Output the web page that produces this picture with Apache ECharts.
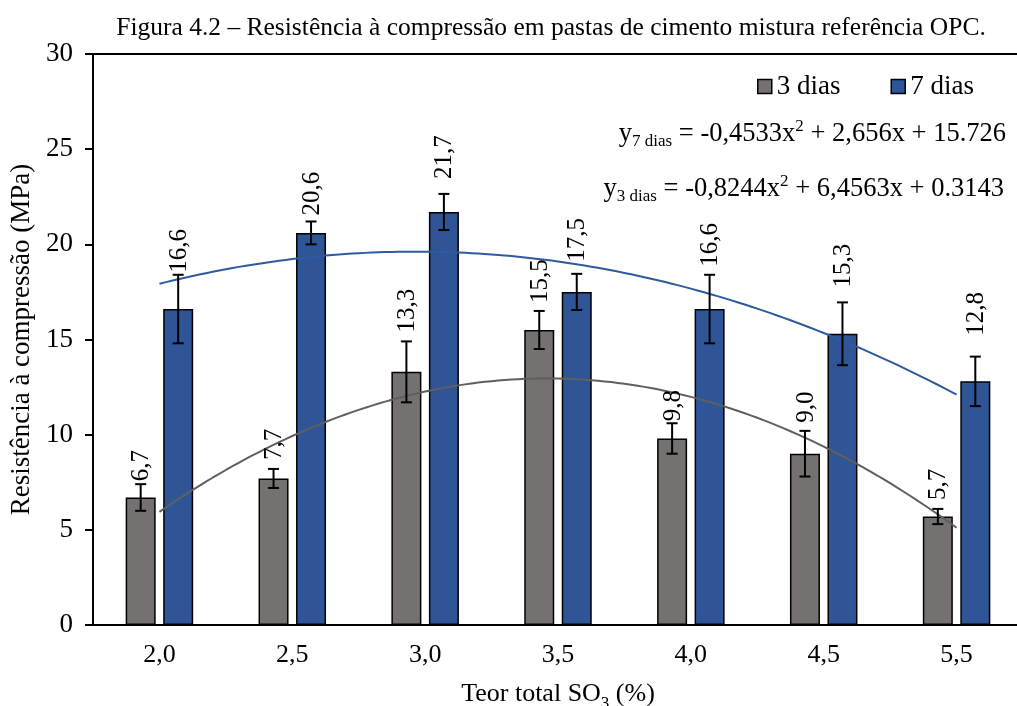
<!DOCTYPE html>
<html>
<head>
<meta charset="utf-8">
<script src="https://cdn.jsdelivr.net/npm/echarts@6/dist/echarts.min.js"></script>
<style>
html,body{margin:0;padding:0;background:#fff;}
#chart{width:1017px;height:706px;}
</style>
</head>
<body>
<div id="chart"></div>
<script>
// ---- data ----
var categories = ['2,0', '2,5', '3,0', '3,5', '4,0', '4,5', '5,5'];
var values3 = [6.7, 7.7, 13.3, 15.5, 9.8, 9.0, 5.7];
var values7 = [16.6, 20.6, 21.7, 17.5, 16.6, 15.3, 12.8];
var err3 = [0.7, 0.5, 1.6, 1.0, 0.8, 1.2, 0.4];
var err7 = [1.8, 0.6, 0.95, 0.95, 1.8, 1.65, 1.3];
var labels3 = ['6,7', '7,7', '13,3', '15,5', '9,8', '9,0', '5,7'];
var labels7 = ['16,6', '20,6', '21,7', '17,5', '16,6', '15,3', '12,8'];
var trend3Coef = [-0.8244, 6.4563, 0.3143]; // a, b, c  (y = a x^2 + b x + c), x = category number
var trend7Coef = [-0.4533, 2.656, 15.726];

// ---- style ----
var FONT = '"Liberation Serif", "Times New Roman", serif';
var GRAY = '#767171';
var BLUE = '#2F5597';
var BAR_W = 30;
var BAR_GAP = 7.5;
// pixel gap between the top of each error bar and its rotated label (style only)
var labelGap3 = [3, 9, 9, 8, 2, 8, 9];
var labelGap7 = [2, 6, 15, 12, 8, 15, 21];

function trendPoints(coef) {
  var pts = [];
  var n = categories.length;
  for (var i = 0; i <= 120; i++) {
    var x = 1 + (n - 1) * i / 120;
    pts.push([x, coef[0] * x * x + coef[1] * x + coef[2]]);
  }
  return pts;
}

function errData(vals, errs) {
  return vals.map(function (v, i) { return [i, v - errs[i], v + errs[i]]; });
}

function errRender(offset, labelArr, gapArr) {
  return function (params, api) {
    var idx = api.value(0);
    var lo = api.coord([idx, api.value(1)]);
    var hi = api.coord([idx, api.value(2)]);
    var x = lo[0] + offset;
    var cap = 5.5;
    var ls = { stroke: '#000', lineWidth: 2 };
    return {
      type: 'group',
      children: [
        { type: 'line', shape: { x1: x, y1: lo[1], x2: x, y2: hi[1] }, style: ls },
        { type: 'line', shape: { x1: x - cap, y1: lo[1], x2: x + cap, y2: lo[1] }, style: ls },
        { type: 'line', shape: { x1: x - cap, y1: hi[1], x2: x + cap, y2: hi[1] }, style: ls },
        { type: 'text', x: x + 1, y: hi[1] - gapArr[params.dataIndex], rotation: Math.PI / 2,
          style: { text: labelArr[params.dataIndex], fontFamily: FONT, fontSize: 25, fill: '#000',
                   align: 'left', verticalAlign: 'middle' } }
      ]
    };
  };
}

var off = (BAR_W + BAR_GAP) / 2;
var chart = echarts.init(document.getElementById('chart'), null, { renderer: 'canvas' });

var eqRich = {
  m: { fontFamily: FONT, fontSize: 26.5, lineHeight: 32, fill: '#000' },
  sub: { fontFamily: FONT, fontSize: 17, lineHeight: 17, verticalAlign: 'bottom', fill: '#000' },
  sup: { fontFamily: FONT, fontSize: 17, lineHeight: 17, verticalAlign: 'top', fill: '#000' }
};

var option = {
  animation: false,
  backgroundColor: '#fff',
  textStyle: { fontFamily: FONT },
  grid: { left: 93, top: 54, width: 930, bottom: 81, outerBoundsMode: 'none', containLabel: false,
          show: true, borderColor: '#000', borderWidth: 2, backgroundColor: 'transparent' },
  legend: {
    left: 757, top: 73, padding: 0, itemWidth: 14, itemHeight: 14, itemGap: 50, icon: 'rect',
    data: ['3 dias', '7 dias'],
    textStyle: { fontFamily: FONT, fontSize: 27, color: '#000' },
    itemStyle: { borderColor: '#000', borderWidth: 1.5 }
  },
  xAxis: [{
    type: 'category', data: categories,
    axisLine: { lineStyle: { color: '#000', width: 2 } },
    axisTick: { alignWithLabel: true, length: 8, lineStyle: { color: '#000', width: 2 } },
    axisLabel: { fontFamily: FONT, fontSize: 26, color: '#000', margin: 17 },
    name: '{t|Teor total SO}{s|3}{t| (%)}',
    nameLocation: 'middle', nameGap: 54,
    nameTextStyle: { fontFamily: FONT, fontSize: 26, color: '#000',
      rich: {
        t: { fontFamily: FONT, fontSize: 26, lineHeight: 30, color: '#000' },
        s: { fontFamily: FONT, fontSize: 17, lineHeight: 17, verticalAlign: 'bottom', color: '#000', padding: [0, 0, -3, 0] }
      } }
  }, {
    type: 'value', min: 0.5, max: 7.5, show: false
  }],
  yAxis: {
    type: 'value', min: 0, max: 30, interval: 5,
    axisLine: { show: true, lineStyle: { color: '#000', width: 2 } },
    axisTick: { show: true, inside: false, length: 8, lineStyle: { color: '#000', width: 2 } },
    splitLine: { show: false },
    axisLabel: { fontFamily: FONT, fontSize: 27, color: '#000', margin: 20 },
    name: 'Resistência à compressão (MPa)',
    nameLocation: 'middle', nameGap: 57, nameRotate: 90,
    nameTextStyle: { fontFamily: FONT, fontSize: 27, color: '#000' }
  },
  series: [
    { name: '3 dias', type: 'bar', data: values3, barWidth: BAR_W, barGap: (BAR_GAP / BAR_W * 100) + '%',
      itemStyle: { color: GRAY, borderColor: '#000', borderWidth: 1.5 }, z: 2 },
    { name: '7 dias', type: 'bar', data: values7, barWidth: BAR_W,
      itemStyle: { color: BLUE, borderColor: '#000', borderWidth: 1.5 }, z: 2 },
    { type: 'line', xAxisIndex: 1, data: trendPoints(trend7Coef), showSymbol: false, symbol: 'none',
      lineStyle: { color: '#2F5AA0', width: 2 }, z: 3, silent: true },
    { type: 'line', xAxisIndex: 1, data: trendPoints(trend3Coef), showSymbol: false, symbol: 'none',
      lineStyle: { color: '#5F5F5F', width: 2 }, z: 3, silent: true },
    { type: 'custom', data: errData(values3, err3), renderItem: errRender(-off, labels3, labelGap3),
      encode: { x: 0, y: [1, 2] }, z: 4, silent: true },
    { type: 'custom', data: errData(values7, err7), renderItem: errRender(off, labels7, labelGap7),
      encode: { x: 0, y: [1, 2] }, z: 4, silent: true }
  ],
  graphic: [
    { type: 'text', x: 551, y: 28, style: { text: 'Figura 4.2 – Resistência à compressão em pastas de cimento mistura referência OPC.',
      fontFamily: FONT, fontSize: 25.5, fill: '#000', align: 'center', verticalAlign: 'middle' } },
    { type: 'text', x: 1006, y: 134, style: { text: '{m|y}{sub|7 dias}{m| = -0,4533x}{sup|2}{m| + 2,656x + 15.726}',
      rich: eqRich, align: 'right', verticalAlign: 'middle' } },
    { type: 'text', x: 1004, y: 189, style: { text: '{m|y}{sub|3 dias}{m| = -0,8244x}{sup|2}{m| + 6,4563x + 0.3143}',
      rich: eqRich, align: 'right', verticalAlign: 'middle' } }
  ]
};

chart.setOption(option);
</script>
</body>
</html>
